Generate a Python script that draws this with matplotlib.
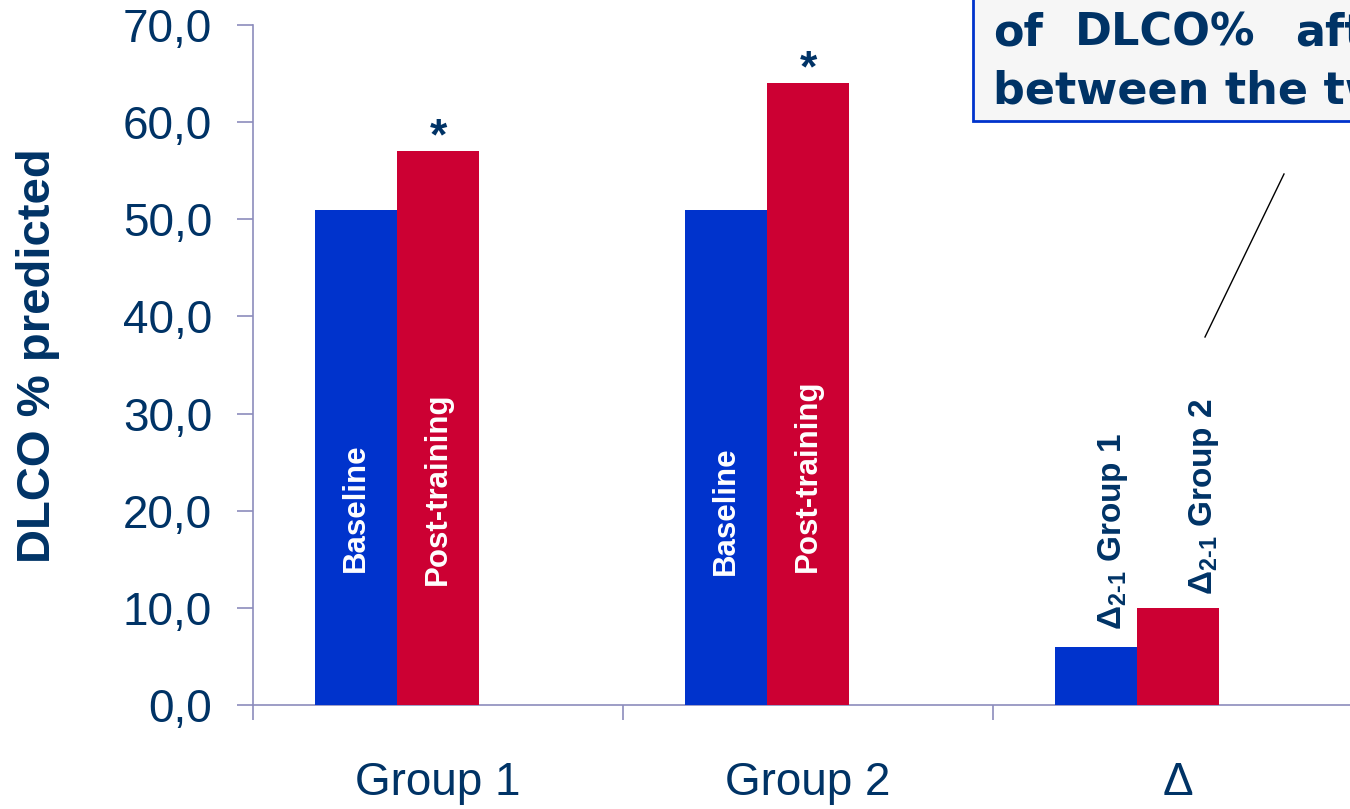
import matplotlib
matplotlib.use('Agg')
import matplotlib.pyplot as plt
from matplotlib.patches import Rectangle
from matplotlib.lines import Line2D
from matplotlib.ticker import FixedLocator
import numpy as np

# data
categories = ['Group 1', 'Group 2', 'Δ']
baseline = [51.0, 51.0, 6.0]
post_training = [57.0, 64.0, 10.0]
significant = [True, True, False]
y_ticks = [0, 10, 20, 30, 40, 50, 60, 70]

NAVY = '#003366'
BLUE = '#0033cc'
RED = '#cc0033'
AXIS = '#8c8cbc'

plt.rcParams['font.family'] = ['Liberation Sans', 'DejaVu Sans']
plt.rcParams['mathtext.fontset'] = 'custom'
plt.rcParams['mathtext.rm'] = 'Liberation Sans:bold'
plt.rcParams['mathtext.it'] = 'Liberation Sans:bold'
plt.rcParams['mathtext.bf'] = 'Liberation Sans:bold'

W, H = 1350, 809
fig = plt.figure(figsize=(W / 100, H / 100), dpi=100)
fig.patch.set_facecolor('white')

# axes: left edge at x=253, y from 705 (0) to 25 (70); 370 px per category
ax = fig.add_axes([253 / W, 1 - 705 / H, 3 * 370 / W, 680 / H])
ax.set_facecolor('none')

x = np.arange(len(categories)) + 0.5
w = 82 / 370

b1 = ax.bar(x - w, baseline, w, color=BLUE, zorder=3)
b2 = ax.bar(x, post_training, w, color=RED, zorder=3)

ax.set_xlim(0, 3)
ax.set_ylim(0, 70)

for s in ['top', 'right']:
    ax.spines[s].set_visible(False)
for s in ['left', 'bottom']:
    ax.spines[s].set_color(AXIS)
    ax.spines[s].set_linewidth(1.2)

ax.set_yticks(y_ticks)
ax.set_yticklabels([f'{v:.1f}'.replace('.', ',') for v in y_ticks])
ax.tick_params(axis='y', length=11.5, width=1.2, color=AXIS, pad=18,
               labelsize=33, labelcolor=NAVY)

ax.set_xticks(x)
ax.set_xticklabels(categories)
ax.tick_params(axis='x', which='major', length=0, pad=40, labelsize=33, labelcolor=NAVY)
ax.xaxis.set_minor_locator(FixedLocator([0, 1, 2, 3]))
ax.tick_params(axis='x', which='minor', length=11, width=1.2, color=AXIS)

# labels inside the group bars
inner_y = [(13.7, 12.4), (13.4, 13.7)]
for i in range(2):
    ax.text(x[i] - w, inner_y[i][0], 'Baseline', rotation=90, ha='center', va='bottom',
            color='white', fontsize=22.5, fontweight='bold', zorder=4)
    ax.text(x[i], inner_y[i][1], 'Post-training', rotation=90, ha='center', va='bottom',
            color='white', fontsize=22.5, fontweight='bold', zorder=4)

# delta labels above the delta bars
ax.text(x[2] - w + 0.045, baseline[2] + 1.7, r'$\Delta_{\text{2-1}}$ Group 1', rotation=90,
        ha='center', va='bottom', color=NAVY, fontsize=24, fontweight='bold', zorder=4)
ax.text(x[2] + 0.07, post_training[2] + 1.3, r'$\Delta_{\text{2-1}}$ Group 2', rotation=90,
        ha='center', va='bottom', color=NAVY, fontsize=24, fontweight='bold', zorder=4)

# significance stars
for xi, v, sig in zip(x, post_training, significant):
    if sig:
        ax.annotate('*', (xi, v), xytext=(0, 1.5), textcoords='offset points',
                    ha='center', va='baseline', color=NAVY, fontsize=32, fontweight='bold')

# y label
fig.text(38 / W, 1 - 356 / H, 'DLCO % predicted', rotation=90, ha='center', va='center',
         color=NAVY, fontsize=34, fontweight='bold')

# callout box, cut by the right/top edge as in the reference
fig.patches.append(Rectangle((973 / W, 1 - 121 / H), 0.5, 0.5, transform=fig.transFigure,
                             facecolor='#f6f6f6', edgecolor=BLUE, linewidth=2, zorder=1))
box_font = dict(family='DejaVu Sans', fontweight='bold', fontsize=32, color=NAVY, va='baseline')
fig.text(993 / W, 1 - 45 / H, 'of', **box_font)
fig.text(1075 / W, 1 - 45 / H, 'DLCO%', **box_font)
fig.text(1295 / W, 1 - 45 / H, 'aft', **box_font)
fig.text(993 / W, 1 - 103 / H, 'between the tw', **box_font)

fig.lines.append(Line2D([1284 / W, 1205 / W], [1 - 174 / H, 1 - 337 / H],
                        transform=fig.transFigure, color='black', linewidth=1))

fig.savefig('out.png', dpi=100)
